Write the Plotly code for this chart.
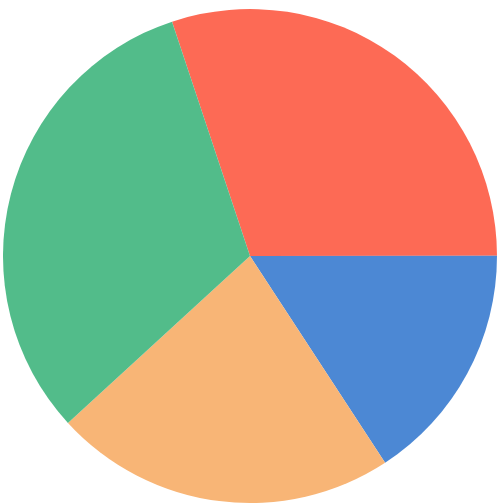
import plotly.graph_objects as go

labels = ["A", "B", "C", "D"]
values = [30.1, 15.8, 22.4, 31.7]
colors = ["#FD6A55", "#4C88D4", "#F8B576", "#52BC8A"]

fig = go.Figure(go.Pie(
    labels=labels,
    values=values,
    sort=False,
    direction="clockwise",
    rotation=-18.4,
    marker=dict(colors=colors, line=dict(width=0)),
    textinfo="none",
    hoverinfo="label+percent",
    domain=dict(x=[3/503, 497/503], y=[1/504, 495/504]),
))
fig.update_layout(
    width=503, height=504,
    margin=dict(l=0, r=0, t=0, b=0),
    showlegend=False,
    paper_bgcolor="white",
    plot_bgcolor="white",
)
fig.write_html("out.html", config={"displayModeBar": False},
               post_script="document.body.style.margin='0';")
